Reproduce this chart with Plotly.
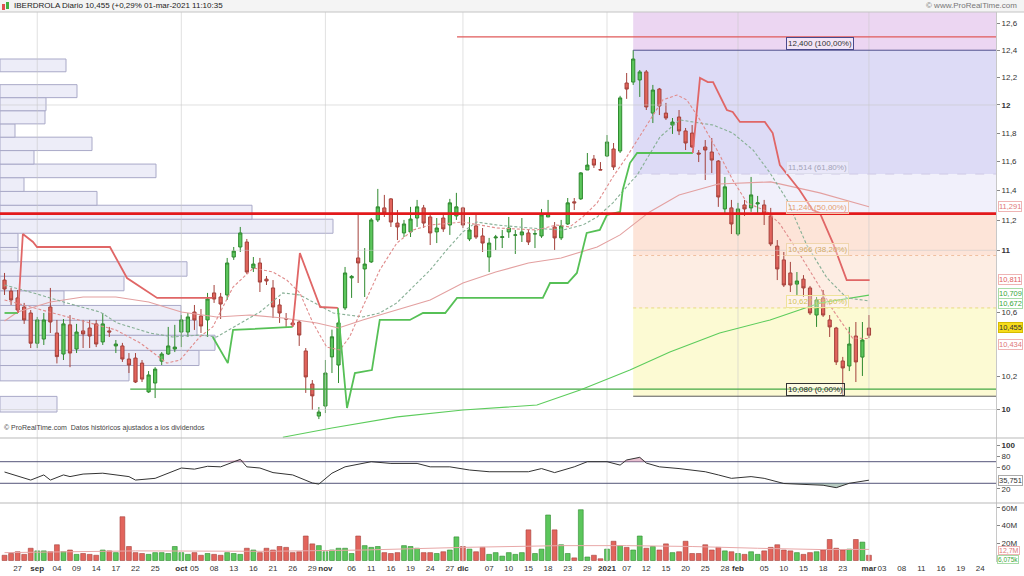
import math
import plotly.graph_objects as go

# ---------------- DATA ----------------
# x = trading-day index: 0 = 25-ago-2020 ... 132 = 01-mar-2021
opens = [10.806,10.735,10.691,10.633,10.595,10.405,10.431,10.633,10.469,10.338,
         10.520,10.369,10.482,10.500,10.526,10.413,10.482,10.388,10.388,10.307,
         10.313,10.282,10.106,10.160,10.294,10.338,10.369,10.475,10.475,10.601,
         10.576,10.551,10.723,10.697,10.710,10.956,11.022,11.055,10.884,10.917,
         10.812,10.755,10.646,10.560,10.532,10.538,10.357,10.154,9.961,10.021,
         10.320,10.270,10.627,10.820,10.950,10.878,10.924,11.202,11.283,11.344,
         11.181,11.115,11.122,11.215,11.283,11.222,11.122,11.215,11.168,11.229,
         11.283,11.075,11.162,11.095,10.956,11.082,11.085,11.122,11.100,11.102,
         11.115,11.108,11.095,11.222,11.155,11.082,11.175,11.324,11.344,11.542,
         11.618,11.545,11.639,11.688,11.674,12.159,12.166,12.181,12.240,11.942,
         12.115,11.942,11.857,11.914,11.815,11.800,11.660,11.702,11.667,11.604,
         11.276,11.283,11.108,11.303,11.283,11.310,11.303,11.229,11.028,10.937,
         10.852,10.780,10.812,10.755,10.582,10.691,10.551,10.500,10.295,10.264,
         10.450,10.319,10.500]
highs = [10.852,10.755,10.742,10.659,10.614,10.570,10.595,10.755,10.551,10.557,
         10.582,10.526,10.551,10.551,10.551,10.595,10.507,10.425,10.407,10.344,
         10.344,10.301,10.233,10.257,10.350,10.507,10.520,10.582,10.595,10.646,
         10.620,10.723,10.774,10.723,10.950,11.022,11.155,11.075,10.956,10.950,
         10.832,10.806,10.684,10.595,10.557,10.551,10.375,10.178,10.015,10.301,
         10.490,10.563,10.891,10.838,11.236,11.015,11.215,11.412,11.371,11.350,
         11.269,11.202,11.290,11.337,11.303,11.249,11.215,11.236,11.344,11.385,
         11.290,11.222,11.236,11.148,11.082,11.102,11.135,11.222,11.135,11.215,
         11.135,11.135,11.276,11.337,11.188,11.202,11.350,11.350,11.528,11.660,
         11.646,11.597,11.786,11.730,12.066,12.232,12.400,12.254,12.254,12.145,
         12.123,12.015,11.907,11.964,11.836,11.857,11.681,11.751,11.765,11.611,
         11.494,11.337,11.317,11.337,11.494,11.364,11.337,11.283,11.068,10.989,
         10.924,10.858,10.838,10.768,10.697,10.742,10.582,10.507,10.320,10.507,
         10.538,10.538,10.582]
lows = [10.710,10.646,10.595,10.526,10.375,10.375,10.394,10.469,10.280,10.301,
        10.257,10.344,10.375,10.375,10.381,10.394,10.444,10.344,10.289,10.221,
        10.160,10.166,10.100,10.069,10.270,10.332,10.350,10.381,10.444,10.488,
        10.469,10.444,10.659,10.557,10.678,10.937,10.989,10.845,10.858,10.729,
        10.774,10.563,10.532,10.507,10.507,10.388,10.100,9.997,9.943,9.979,
        10.221,10.160,10.614,10.691,10.787,10.697,10.917,11.188,11.222,11.155,
        11.068,11.088,11.088,11.155,11.148,11.035,11.048,11.122,11.102,11.202,
        11.148,11.061,11.075,10.989,10.858,11.002,11.015,11.082,10.976,11.055,
        11.035,11.015,11.082,11.222,11.002,11.068,11.168,11.269,11.337,11.542,
        11.556,11.542,11.632,11.542,11.660,12.044,12.145,12.058,11.964,11.871,
        11.928,11.893,11.794,11.786,11.681,11.695,11.597,11.473,11.521,11.290,
        11.236,11.108,11.095,11.229,11.256,11.249,11.168,11.028,10.806,10.761,
        10.729,10.710,10.697,10.582,10.507,10.570,10.444,10.270,10.080,10.233,
        10.166,10.203,10.437]
closes = [10.748,10.678,10.614,10.551,10.405,10.551,10.551,10.538,10.322,10.526,
          10.344,10.475,10.463,10.450,10.400,10.526,10.475,10.400,10.307,10.270,
          10.166,10.184,10.209,10.245,10.338,10.388,10.381,10.551,10.570,10.551,
          10.513,10.684,10.684,10.652,10.917,10.995,11.115,10.858,10.910,10.793,
          10.800,10.633,10.595,10.557,10.520,10.456,10.197,10.082,9.985,10.221,
          10.445,10.532,10.852,10.830,10.917,10.910,11.202,11.290,11.249,11.188,
          11.155,11.175,11.208,11.290,11.181,11.115,11.148,11.142,11.317,11.290,
          11.168,11.135,11.088,11.048,11.048,11.088,11.090,11.148,11.102,11.122,
          11.055,11.110,11.236,11.242,11.082,11.162,11.317,11.317,11.522,11.576,
          11.576,11.542,11.737,11.563,12.051,12.115,12.335,12.240,11.986,12.108,
          11.993,11.907,11.878,11.815,11.730,11.702,11.653,11.681,11.611,11.357,
          11.426,11.175,11.276,11.276,11.371,11.317,11.242,11.042,10.878,10.774,
          10.774,10.800,10.755,10.595,10.678,10.582,10.507,10.289,10.252,10.400,
          10.289,10.425,10.455]
volumes_m = [6,8,10,7,14,11,11,10,18,10,
             12,7,8,7,6,12,11,9,50,16,
             9,8,7,9,9,8,16,9,7,9,
             6,8,7,6,9,8,7,14,12,9,
             14,12,16,15,9,10,28,19,17,10,
             12,14,14,8,28,17,15,16,9,8,
             9,17,16,14,9,9,8,10,12,27,
             16,13,10,15,7,9,5,9,7,9,
             35,8,13,52,35,18,8,3,58,4,
             6,2,13,22,17,15,12,28,14,16,
             12,19,9,10,22,8,8,18,12,15,
             11,10,8,7,10,7,11,15,18,12,
             11,9,7,9,10,12,24,14,12,13,
             24,21,6]

tick_idx = [2,5,8,11,14,17,20,23,27,29,32,35,38,41,44,47,49,53,56,59,62,65,68,
            70,74,77,80,83,86,89,92,95,98,101,104,107,110,112,116,119,122,125,128,
            132,134,137,140,143,146,149]
tick_txt = ["27","sep","04","09","14","17","22","25","oct","05","08","13","16","21","26","29",
            "nov","06","11","16","19","24","27","dic","07","10","15","18","23","29",
            "2021","07","12","15","20","25","28","feb","05","10","15","18","23",
            "mar","03","08","11","16","19","24"]
month_names = ["sep","oct","nov","dic","2021","feb","mar"]
month_idx = [5,27,49,70,92,112,132]

# moving averages (knots)
ma_pink_x = [0,2,7,12,17,22,27,32.4,37.5,42.5,47.7,51,54.7,60,65,70,75,80,85,90.5,94,98.5,103,109,117,124.5,132]
ma_pink_y = [10.544,10.601,10.665,10.697,10.697,10.665,10.601,10.570,10.582,10.563,10.532,10.500,10.551,
             10.614,10.678,10.787,10.858,10.917,10.950,11.022,11.102,11.256,11.371,11.446,11.460,11.385,11.291]
ma_green_x = [42.5,50,60,70,81.3,87.9,95.5,101.6,109.2,116.9,124.5,132]
ma_green_y = [9.835,9.890,9.956,9.997,10.027,10.117,10.239,10.350,10.469,10.551,10.659,10.709]
ma_fast_x = [0,17,20.7,24.8,26.8,29.8,31.8,34.9,38,41,43.1,45.1,47.1,49.2,51.2,52.7,54.7,57.3,59.9,62.4,
             65,70,75.2,81.3,84.3,86.3,88.3,90.5,92.9,95,97.8,100.5,102.7,104.2,106.2,108.8,111.2,113.4,
             116.4,118.4,121.4,124.5,126.5,129.5,132]
ma_fast_y = [10.678,10.488,10.407,10.282,10.301,10.444,10.507,10.761,10.884,10.858,10.806,10.723,10.532,
             10.381,10.363,10.444,10.633,10.871,11.048,11.135,11.168,11.188,11.148,11.135,11.168,11.155,
             11.222,11.317,11.494,11.632,11.836,12.036,12.072,12.036,11.893,11.681,11.473,11.317,11.260,
             11.175,10.976,10.761,10.614,10.437,10.434]
ma_mid_x = [0,4.4,9.5,14.6,17.2,22.2,25.7,29.8,32.4,39,42.5,45.1,50.2,54.7,57.3,59.9,65,67.5,70,72.1,
            75.2,80.2,85.3,88.3,90.5,92.9,95.5,96.6,100.1,103.1,106.2,108.2,111.2,114.3,116.9,119.5,
            122.5,125.6,128.6,132]
ma_mid_y = [10.774,10.723,10.659,10.601,10.532,10.469,10.444,10.456,10.444,10.601,10.723,10.710,10.595,
            10.570,10.595,10.659,10.871,11.002,11.122,11.188,11.168,11.148,11.135,11.168,11.222,11.317,
            11.453,11.507,11.773,11.893,11.871,11.857,11.800,11.681,11.521,11.337,11.035,10.819,10.691,10.672]

# trailing stop (green = below price, red = above price)
st_green_x = [0,2.06,None,31.8,34.1,34.9,44.0,None,50.9,52.3,53.5,56.1,57.3,61.9,63.9,67.3,69.1,82.2,83.3,
              86.0,87.4,88.9,90.9,92.0,94.0,94.4,95.5,96.6,105.1]
st_green_y = [10.595,10.595,None,10.444,10.282,10.488,10.507,None,10.627,10.009,10.221,10.239,10.551,10.551,
              10.595,10.595,10.691,10.691,10.787,10.787,10.852,11.115,11.135,11.236,11.256,11.405,11.590,
              11.660,11.660]
st_red_x = [2.06,2.8,4.35,4.96,16.1,18.7,23.3,31.8,None,44.0,45.1,48.2,50.9,None,105.1,106.2,107.4,108.2,
            110.3,111.2,112.3,116.1,117.3,118.4,121.4,123.4,124.5,126.5,128.6,132.1]
st_red_y = [10.595,11.108,11.055,11.022,11.022,10.819,10.691,10.691,None,10.507,10.982,10.633,10.627,None,
            11.660,12.196,12.166,12.166,11.964,11.950,11.879,11.879,11.800,11.576,11.405,11.269,11.249,
            11.048,10.806,10.806]

# horizontal levels
resist_level = 11.245
top_level = 12.499
top_level_start = 69.1
support_level = 10.123
support_start = 19.2

# Fibonacci retracement
fib_start = 96
fib_levels = [12.400, 11.514, 11.240, 10.966, 10.627, 10.080]
fib_pct = ["100,00%", "61,80%", "50,00%", "38,20%", "23,60%", "0,00%"]

# volume profile (price bands and relative volumes)
vp_edges = [9.985,10.079,10.173,10.267,10.361,10.455,10.549,10.643,10.737,10.831,10.925,11.019,11.113,
            11.207,11.301,11.395,11.489,11.583,11.677,11.771,11.865,11.959,12.053,12.147,12.241,12.335]
vp_vol = [57,0,129,199,215,197,181,64,124,187,18,18,333,252,97,24,156,34,92,15,45,46,77,0,66]

# RSI
rsi_x = [0,3,4,6,7,9,10,12,15,19,20,23,27,29,31,33,36,37,39,41,44,47,48,50,52,56,59,63,65,68,71,74,77,80,
         82,84,87,89,92,94,95,97,98,100,103,107,109,111,114,116,119,123,125,127,129,132]
rsi_y = [50.9,39.2,36.0,45.5,36.0,45.5,42.4,47.1,48.7,42.4,36.0,39.2,58.3,56.2,61.5,60.5,74.3,60.5,58.3,
         49.8,45.5,30.6,28.5,48.7,60.5,70.0,66.8,66.8,60.5,60.5,54.6,51.4,51.4,51.4,57.3,49.8,60.5,70.0,
         70.0,63.7,73.2,78.1,67.5,60.5,57.3,51.4,45.5,39.2,42.4,39.2,29.6,28.1,26.4,21.9,30.0,35.751]

# volume moving average
vma_x = [0,20,40,55,70,85,95,105,115,125,132]
vma_y = [9,11,10.5,12,15,17,17,16,14,12.5,12.7]

# ---------------- FIGURE ----------------
FONT = "Liberation Sans, Arial, sans-serif"
L = math.log10
X_MIN, X_MAX = -0.69, 151.4
Y_BOT, Y_TOP = 9.831, 12.687
OSC_RANGE = [-6.5, 113.9]
VOL_RANGE = [-1.7, 65.7]
PW = 996.0  # plot width in px
D_MAIN = [0.22545, 1.0]
D_OSC = [0.10727, 0.22545]
D_VOL = [0.0, 0.10727]
VP_SCALE = (X_MAX - X_MIN) / PW  # volume-profile units -> x units

idx = list(range(len(closes)))
up = [c >= o for o, c in zip(opens, closes)]
GREEN_F, GREEN_L = "#5cc65c", "#2f8a2f"
RED_F, RED_L = "#e2645c", "#a4423c"
SHORT_DASH = "3px,2px"

fig = go.Figure()


def line_trace(xs, ys, color, width=1, dash="solid", yaxis="y"):
    return go.Scatter(x=xs, y=ys, yaxis=yaxis, mode="lines", connectgaps=False,
                      line=dict(color=color, width=width, dash=dash), hoverinfo="skip")


# Fibonacci zones as bars (bar layer sits below the candles)
zone_cols = ["#ecd6f2", "#dddbf6", "#f1f0fb", "#fde4d8", "#fdede3", "#fcfad3"]
zone_bounds = [Y_TOP] + fib_levels
zone_lo = zone_bounds[1:]
zone_h = [zone_bounds[k] - zone_bounds[k + 1] for k in range(6)]
fig.add_trace(go.Bar(x=[(fib_start + X_MAX) / 2] * 6, y=zone_h, base=zone_lo, width=X_MAX - fib_start,
                     marker=dict(color=zone_cols, line=dict(width=0)), hoverinfo="skip"))

# volume profile (horizontal bars)
vp_mid, vp_len, vp_thk = [], [], []
for k, w in enumerate(vp_vol):
    if w <= 0:
        continue
    vp_mid.append((vp_edges[k] + vp_edges[k + 1]) / 2)
    vp_thk.append(vp_edges[k + 1] - vp_edges[k])
    vp_len.append(w * VP_SCALE)
fig.add_trace(go.Bar(y=vp_mid, x=vp_len, base=X_MIN, width=vp_thk, orientation="h",
                     marker=dict(color="#ededf8", line=dict(color="#a9a9c8", width=1)), hoverinfo="skip"))

# candles
fig.add_trace(go.Candlestick(x=idx, open=opens, high=highs, low=lows, close=closes,
                             increasing=dict(fillcolor=GREEN_F, line=dict(color=GREEN_L, width=1)),
                             decreasing=dict(fillcolor=RED_F, line=dict(color=RED_L, width=1)),
                             whiskerwidth=0, xaxis="x", yaxis="y"))

# grid lines
gx, gy = [], []
for g in [10, 11, 12]:
    gx += [X_MIN, X_MAX, None]
    gy += [g, g, None]
for m in month_idx:
    gx += [m, m, None]
    gy += [Y_BOT, Y_TOP, None]
fig.add_trace(line_trace(gx, gy, "rgba(200,200,200,0.55)"))
vx2, vy2, vy3 = [], [], []
for m in month_idx:
    vx2 += [m, m, None]
    vy2 += [OSC_RANGE[0], OSC_RANGE[1], None]
    vy3 += [VOL_RANGE[0], VOL_RANGE[1], None]
fig.add_trace(line_trace(vx2, vy2, "#e2e2e2", yaxis="y2"))

# Fibonacci level lines
fib_line_style = [("#50508e", "solid"), ("#cfcbe6", "dash"), ("#f2b49c", "dot"),
                  ("#f0c0a0", "dot"), ("#e8da80", "dot"), ("#5a5a5a", "solid")]
for lev, (col, dash) in zip(fib_levels, fib_line_style):
    fig.add_trace(line_trace([fib_start, X_MAX], [lev, lev], col, 1, dash))

# horizontal levels
fig.add_trace(line_trace([support_start, X_MAX], [support_level] * 2, "#45a845", 1.4))
fig.add_trace(line_trace([top_level_start, X_MAX], [top_level] * 2, "#e05a5a", 1.2))

# moving averages
fig.add_trace(line_trace(ma_green_x, ma_green_y, "#5ccc5c", 1.1))
fig.add_trace(line_trace(ma_pink_x, ma_pink_y, "#e3a0a0", 1.1))
fig.add_trace(line_trace(ma_mid_x, ma_mid_y, "#88b096", 1.1, SHORT_DASH))
fig.add_trace(line_trace(ma_fast_x, ma_fast_y, "#e08c8c", 1.1, SHORT_DASH))

# trailing stop
fig.add_trace(line_trace(st_green_x, st_green_y, "#56c056", 1.8))
fig.add_trace(line_trace(st_red_x, st_red_y, "#e06666", 1.8))

# thick resistance
fig.add_trace(line_trace([X_MIN, X_MAX], [resist_level] * 2, "#e3191b", 2.8))

# RSI panel
fig.add_trace(line_trace([X_MIN, X_MAX], [70, 70], "#55557a", 1, yaxis="y2"))
fig.add_trace(line_trace([X_MIN, X_MAX], [30, 30], "#55557a", 1, yaxis="y2"))
fig.add_trace(go.Scatter(x=rsi_x, y=[70] * len(rsi_x), yaxis="y2", mode="lines", line=dict(width=0)))
fig.add_trace(go.Scatter(x=rsi_x, y=[max(v, 70) for v in rsi_y], yaxis="y2", mode="lines",
                         line=dict(width=0), fill="tonexty", fillcolor="rgba(214,140,170,0.55)"))
fig.add_trace(go.Scatter(x=rsi_x, y=[30] * len(rsi_x), yaxis="y2", mode="lines", line=dict(width=0)))
fig.add_trace(go.Scatter(x=rsi_x, y=[min(v, 30) for v in rsi_y], yaxis="y2", mode="lines",
                         line=dict(width=0), fill="tonexty", fillcolor="rgba(110,150,130,0.5)"))
fig.add_trace(line_trace(rsi_x, rsi_y, "#333333", 1, yaxis="y2"))

# volume panel
fig.add_trace(line_trace(vx2, vy3, "#e2e2e2", yaxis="y3"))
fig.add_trace(go.Bar(x=idx, y=volumes_m, yaxis="y3", width=0.74,
                     marker=dict(color=[GREEN_F if u else RED_F for u in up],
                                 line=dict(color=[GREEN_L if u else RED_L for u in up], width=0.6))))
fig.add_trace(line_trace(vma_x, vma_y, "#e8a8a8", 1, yaxis="y3"))

# ---------------- SHAPES (frame / header) ----------------
shapes = []
x_right = 1 + 28 / PW
for yy in [D_OSC[1], D_VOL[1]]:
    shapes.append(dict(type="line", xref="paper", yref="paper", x0=0, x1=x_right, y0=yy, y1=yy,
                       line=dict(color="#b9b9b9", width=1)))
shapes.append(dict(type="rect", xref="paper", yref="paper", x0=0, x1=x_right, y0=1, y1=1 + 12 / 550,
                   fillcolor="#f4f4f4", line=dict(width=0)))
shapes.append(dict(type="line", xref="paper", yref="paper", x0=0, x1=x_right, y0=1, y1=1,
                   line=dict(color="#c4c4c4", width=1)))
shapes.append(dict(type="rect", xref="paper", yref="paper", x0=2 / PW, x1=5 / PW,
                   y0=1 + 2 / 550, y1=1 + 8 / 550, fillcolor="#e05050", line=dict(width=0)))
shapes.append(dict(type="rect", xref="paper", yref="paper", x0=6 / PW, x1=9 / PW,
                   y0=1 + 3 / 550, y1=1 + 10 / 550, fillcolor="#40b040", line=dict(width=0)))

# ---------------- ANNOTATIONS ----------------
ann = []
ann.append(dict(xref="paper", yref="paper", x=12 / PW, y=1 + 6 / 550, xanchor="left", yanchor="middle",
                text="IBERDROLA Diario 10,455 (+0,29% 01-mar-2021 11:10:35", showarrow=False,
                font=dict(size=8, color="#222")))
ann.append(dict(xref="paper", yref="paper", x=1019 / PW, y=1 + 6 / 550, xanchor="right", yanchor="middle",
                text="© www.ProRealTime.com", showarrow=False, font=dict(size=8, color="#777")))
ann.append(dict(xref="paper", yref="paper", x=2 / PW, y=D_MAIN[0] + 4 / 550, xanchor="left",
                yanchor="bottom", text="© ProRealTime.com  Datos históricos ajustados a los dividendos",
                showarrow=False, font=dict(size=7, color="#444")))

fib_lbl = [("#333333", "#4a4a8c"), ("#a4a4b8", "#dcdcec"), ("#e49c72", "#f3c6a8"),
           ("#d2aa66", "#f0d6ae"), ("#d2c454", "#eee39a"), ("#222222", "#333333")]
for lev, pct, (fc, bc) in zip(fib_levels, fib_pct, fib_lbl):
    ann.append(dict(xref="x", yref="y", x=119.4, y=L(lev), xanchor="left", yanchor="bottom", yshift=0,
                    text=f"{lev:.3f}".replace(".", ",") + f" ({pct})", showarrow=False,
                    font=dict(size=8, color=fc), bordercolor=bc, borderwidth=1, borderpad=1,
                    bgcolor="rgba(255,255,255,0.35)"))

right_vals = [11.291, 10.811, 10.709, 10.672, 10.455, 10.434]
right_style = [("#e07878", "#efb4b4", "white", 0), ("#e06060", "#efb4b4", "white", 0),
               ("#3aa83a", "#a8dca8", "white", 2), ("#3aa83a", "#a8dca8", "white", -3),
               ("#333333", "#d6bc00", "#f6dc1c", 8), ("#e07878", "#efb4b4", "white", -6)]
for v, (fc, bc, bg, ys) in zip(right_vals, right_style):
    ann.append(dict(xref="paper", yref="y", x=1, y=L(v), xanchor="left", yanchor="middle", xshift=2,
                    yshift=ys, text=f"{v:.3f}".replace(".", ","), showarrow=False,
                    font=dict(size=7.5, color=fc), bordercolor=bc, borderwidth=1, borderpad=0, bgcolor=bg))
ann.append(dict(xref="paper", yref="y2", x=1, y=rsi_y[-1], xanchor="left", yanchor="middle", xshift=2,
                text=f"{rsi_y[-1]:.3f}".replace(".", ","), showarrow=False, font=dict(size=7.5, color="#333"),
                bordercolor="#aaaaaa", borderwidth=1, borderpad=0, bgcolor="white"))
ann.append(dict(xref="paper", yref="y3", x=1, y=vma_y[-1], xanchor="left", yanchor="middle", xshift=2,
                yshift=-1, text="12,7M", showarrow=False, font=dict(size=7, color="#e07878"),
                bordercolor="#efb4b4", borderwidth=1, borderpad=0, bgcolor="white"))
ann.append(dict(xref="paper", yref="y3", x=1, y=volumes_m[-1], xanchor="left", yanchor="middle", xshift=1,
                yshift=-4, text="6,075k", showarrow=False, font=dict(size=6.5, color="#3aa83a"),
                bordercolor="#a8dca8", borderwidth=1, borderpad=0, bgcolor="white"))

main_ticks = [12.6, 12.4, 12.2, 12, 11.8, 11.6, 11.4, 11.2, 11, 10.6, 10.2, 10]
main_txt = [("<b>%d</b>" % t) if t == int(t) else ("%.1f" % t).replace(".", ",") for t in main_ticks]
x_txt = [("<b>%s</b>" % t) if t in month_names and tick_idx[i] in month_idx else t
         for i, t in enumerate(tick_txt)]

axis_common = dict(showgrid=False, zeroline=False, ticks="outside", ticklen=3, tickcolor="#888",
                   showline=True, linecolor="#c8c8c8", tickfont=dict(size=8, color="#333"),
                   automargin=False)
fig.update_layout(
    width=1024, height=576,
    margin=dict(l=0, r=28, t=12, b=14, autoexpand=False),
    paper_bgcolor="white", plot_bgcolor="white",
    showlegend=False, hovermode=False,
    font=dict(family=FONT, size=8, color="#333"),
    boxgap=0.3, barmode="overlay",
    xaxis=dict(domain=[0, 1], range=[X_MIN, X_MAX], anchor="y3", tickmode="array", tickvals=tick_idx,
               ticktext=x_txt, tickangle=0, showgrid=False, zeroline=False, ticks="", showline=False,
               tickfont=dict(size=8, color="#333"), automargin=False, rangeslider=dict(visible=False)),
    yaxis=dict(domain=D_MAIN, type="log", range=[L(Y_BOT), L(Y_TOP)], side="right", anchor="x",
               tickmode="array", tickvals=main_ticks, ticktext=main_txt, **axis_common),
    yaxis2=dict(domain=D_OSC, range=OSC_RANGE, side="right", anchor="x", tickmode="array",
                tickvals=[100, 80, 60, 20], ticktext=["<b>100</b>", "80", "60", "20"], **axis_common),
    yaxis3=dict(domain=D_VOL, range=VOL_RANGE, side="right", anchor="x", tickmode="array",
                tickvals=[60, 40, 20], ticktext=["60M", "40M", "20M"], **axis_common),
    shapes=shapes, annotations=ann,
)

fig.write_html("out.html", config={"displayModeBar": False},
               post_script="document.body.style.margin='0';document.body.style.overflow='hidden';")
